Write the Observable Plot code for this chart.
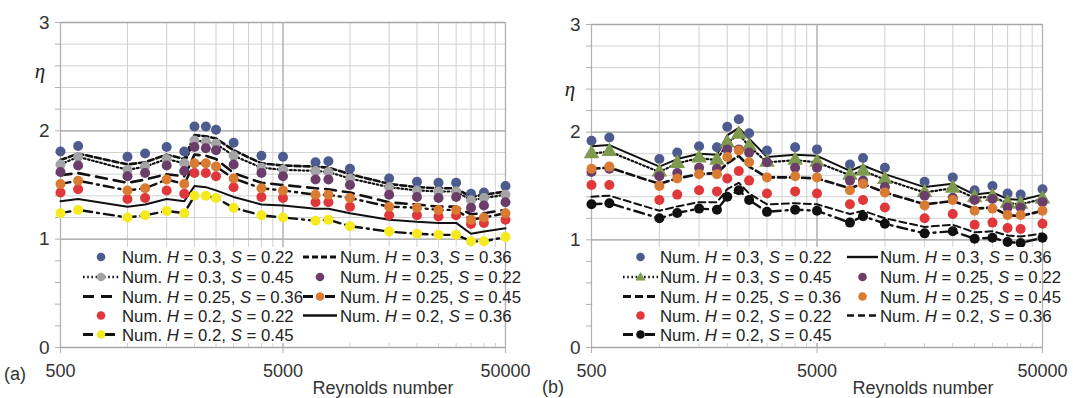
<!DOCTYPE html>
<html><head><meta charset="utf-8">
<script src="https://cdn.jsdelivr.net/npm/d3@7"></script>
<script src="https://cdn.jsdelivr.net/npm/@observablehq/plot@0.6"></script>
<style>
body{margin:0;background:#fff;}
#wrap{position:relative;width:1073px;height:398px;overflow:hidden;font-family:"Liberation Sans",Arial,sans-serif;}
#wrap svg{position:absolute;top:0;}
</style></head><body><div id="wrap"></div>
<script>
// ---------- data ----------
const reynolds = [500, 600, 1000, 1200, 1500, 1800, 2000, 2250, 2500, 3000, 4000, 5000, 7000, 8000, 10000, 15000, 20000, 25000, 30000, 35000, 40000, 50000];
const xTickLabels = [500, 5000, 50000];
const yTickLabels = [0, 1, 2, 3];
const gridX = [500,1000,1500,2000,2500,3000,3500,4000,4500,5000,10000,15000,20000,25000,30000,35000,40000,45000,50000];
const gridY = [0,0.2,0.4,0.6,0.8,1,1.2,1.4,1.6,1.8,2,2.2,2.4,2.6,2.8,3];

// panel (a)
const a_H030_S022 = [1.81,1.86,1.76,1.79,1.85,1.81,2.04,2.04,2.01,1.89,1.77,1.76,1.71,1.72,1.65,1.56,1.53,1.52,1.52,1.42,1.43,1.49];
const a_H030_S045 = [1.69,1.76,1.64,1.67,1.74,1.70,1.91,1.90,1.88,1.77,1.66,1.64,1.63,1.62,1.56,1.48,1.45,1.44,1.44,1.36,1.38,1.41];
const a_H025_S036 = [1.59,1.61,1.52,1.55,1.60,1.58,1.78,1.77,1.74,1.61,1.52,1.50,1.47,1.46,1.43,1.34,1.32,1.30,1.30,1.23,1.24,1.27];
const a_H020_S022 = [1.43,1.46,1.37,1.38,1.45,1.42,1.61,1.61,1.58,1.48,1.39,1.38,1.34,1.34,1.30,1.22,1.22,1.21,1.22,1.14,1.15,1.18];
const a_H020_S045 = [1.24,1.27,1.20,1.22,1.26,1.24,1.40,1.40,1.38,1.29,1.22,1.20,1.17,1.18,1.12,1.07,1.05,1.04,1.04,0.98,0.98,1.02];
const a_H030_S036 = [1.73,1.79,1.69,1.71,1.78,1.74,1.96,1.95,1.93,1.82,1.70,1.68,1.67,1.66,1.60,1.51,1.48,1.47,1.47,1.39,1.41,1.44];
const a_H025_S022 = [1.62,1.68,1.58,1.61,1.68,1.63,1.85,1.84,1.82,1.69,1.61,1.58,1.55,1.55,1.50,1.41,1.39,1.38,1.39,1.29,1.31,1.34];
const a_H025_S045 = [1.51,1.54,1.45,1.47,1.55,1.51,1.70,1.70,1.67,1.56,1.47,1.45,1.41,1.41,1.38,1.30,1.29,1.27,1.27,1.18,1.20,1.24];
const a_H020_S036 = [1.35,1.37,1.30,1.32,1.37,1.35,1.49,1.48,1.45,1.39,1.32,1.31,1.28,1.28,1.24,1.18,1.16,1.15,1.15,1.05,1.07,1.10];

// panel (b)
const b_H030_S022 = [1.92,1.95,1.75,1.81,1.87,1.86,2.05,2.12,1.99,1.83,1.86,1.84,1.70,1.76,1.67,1.54,1.58,1.46,1.50,1.43,1.42,1.47];
const b_H030_S045 = [1.80,1.82,1.63,1.71,1.76,1.74,1.90,1.98,1.87,1.72,1.74,1.72,1.60,1.64,1.56,1.44,1.48,1.39,1.40,1.34,1.33,1.38];
const b_H025_S036 = [1.66,1.67,1.52,1.57,1.61,1.62,1.71,1.78,1.68,1.58,1.58,1.57,1.48,1.52,1.44,1.33,1.36,1.29,1.30,1.23,1.22,1.27];
const b_H020_S022 = [1.51,1.51,1.37,1.42,1.46,1.45,1.57,1.64,1.55,1.43,1.45,1.43,1.33,1.37,1.30,1.20,1.24,1.14,1.16,1.11,1.10,1.15];
const b_H020_S045 = [1.33,1.34,1.20,1.25,1.29,1.28,1.40,1.46,1.37,1.26,1.28,1.27,1.16,1.22,1.15,1.06,1.08,1.01,1.02,0.98,0.97,1.02];
const b_H030_S036 = [1.87,1.88,1.68,1.75,1.80,1.79,1.97,2.04,1.94,1.77,1.79,1.78,1.64,1.69,1.61,1.49,1.52,1.42,1.44,1.38,1.37,1.42];
const b_H025_S022 = [1.63,1.66,1.59,1.62,1.67,1.66,1.84,1.84,1.81,1.72,1.67,1.67,1.55,1.55,1.49,1.41,1.39,1.37,1.38,1.30,1.30,1.35];
const b_H025_S045 = [1.66,1.68,1.50,1.57,1.61,1.61,1.77,1.83,1.72,1.58,1.59,1.58,1.46,1.52,1.44,1.32,1.37,1.27,1.29,1.23,1.23,1.27];
const b_H020_S036 = [1.40,1.41,1.27,1.31,1.35,1.35,1.47,1.53,1.43,1.33,1.34,1.33,1.24,1.27,1.20,1.12,1.14,1.07,1.08,1.04,1.03,1.06];

// ---------- styles ----------
const BLUE="#4e5b8e", GRAY="#a4a4a6", PURPLE="#6b3e69", ORANGE="#d97b32", RED="#e0373a", YELLOW="#f4ea1e", GREEN="#7f9a4e", BLACK="#111";
const DOTTED="1.6,2.6", LONG="11,7", DASH="6,3", DASHDOT="10,5,2,5", SHORT="7,4", MED="8,4";

const seriesA = [
  {H:"0.3", S:"0.22", v:a_H030_S022, fill:BLUE},
  {H:"0.3", S:"0.45", v:a_H030_S045, fill:GRAY, dash:DOTTED, sw:2.2},
  {H:"0.25",S:"0.36", v:a_H025_S036, dash:LONG, sw:2.6},
  {H:"0.2", S:"0.22", v:a_H020_S022, fill:RED},
  {H:"0.2", S:"0.45", v:a_H020_S045, fill:YELLOW, dash:DASHDOT, sw:2.4},
  {H:"0.3", S:"0.36", v:a_H030_S036, dash:DASH, sw:2.6},
  {H:"0.25",S:"0.22", v:a_H025_S022, fill:PURPLE},
  {H:"0.25",S:"0.45", v:a_H025_S045, fill:ORANGE, dash:DASHDOT, sw:2.4},
  {H:"0.2", S:"0.36", v:a_H020_S036, dash:"none", sw:2}
];
const seriesB = [
  {H:"0.3", S:"0.22", v:b_H030_S022, fill:BLUE},
  {H:"0.3", S:"0.45", v:b_H030_S045, fill:GREEN, dash:DOTTED, sw:2.2, symbol:"triangle"},
  {H:"0.25",S:"0.36", v:b_H025_S036, dash:MED, sw:2.6},
  {H:"0.2", S:"0.22", v:b_H020_S022, fill:RED},
  {H:"0.2", S:"0.45", v:b_H020_S045, fill:BLACK, dash:DASHDOT, sw:2.4},
  {H:"0.3", S:"0.36", v:b_H030_S036, dash:"none", sw:2},
  {H:"0.25",S:"0.22", v:b_H025_S022, fill:PURPLE},
  {H:"0.25",S:"0.45", v:b_H025_S045, fill:ORANGE},
  {H:"0.2", S:"0.36", v:b_H020_S036, dash:SHORT, sw:2}
];

const FONT = '"Liberation Sans", Arial, sans-serif';
const wrap = document.getElementById("wrap");

function panel(cfg) {
  const {series, left, width, mL, mT, mR} = cfg;
  const marks = [
    Plot.ruleY(gridY, {stroke:"#d2d2d2", strokeWidth:1}),
    Plot.ruleX(gridX, {stroke:"#d0d0d0", strokeWidth:1}),
    Plot.ruleY(yTickLabels, {stroke:"#a6a6a6", strokeWidth:1.3}),
    Plot.ruleX(xTickLabels, {stroke:"#b2b2b2", strokeWidth:1.3}),
    Plot.axisY({ticks: gridY, tickSize: 5, tickFormat: () => "", stroke:"#b0b0b0", label:null}),
    Plot.axisY({ticks: yTickLabels, tickSize: 0, tickPadding: 11, fontSize: 19, fill:"#333", label:null, tickFormat: d => String(d)}),
    Plot.axisX({ticks: xTickLabels, tickSize: 6, tickPadding: 11, fontSize: 18, fill:"#333", stroke:"#b0b0b0", tickFormat: d => String(d), label:null})
  ];
  series.forEach(s => {
    if (s.dash) {
      const data = reynolds.map((re,i)=>({re, eta:s.v[i]}));
      marks.push(Plot.line(data, {x:"re", y:"eta", stroke:BLACK, strokeWidth:s.sw, strokeDasharray: s.dash === "none" ? null : s.dash}));
    }
  });
  series.forEach(s => {
    if (s.fill) {
      const data = reynolds.map((re,i)=>({re, eta:s.v[i]}));
      marks.push(Plot.dot(data, {x:"re", y:"eta", fill:s.fill, r: s.symbol ? 5.8 : 5, symbol: s.symbol || "circle", stroke:"none"}));
    }
  });
  const svg = Plot.plot({
    width, height: 398, marginLeft: mL, marginRight: mR, marginTop: mT, marginBottom: 398-347,
    x: {type:"log", domain:[500,50000]},
    y: {domain:[0,3]},
    style: {fontFamily: FONT, background:"transparent", overflow:"visible"},
    marks
  });
  svg.style.left = left + "px";
  wrap.appendChild(svg);
  const g = d3.select(svg).append("g").attr("font-family", FONT).attr("text-anchor", "start");
  // legend box
  const lb = cfg.legendBox;
  g.append("rect").attr("x", lb[0]).attr("y", lb[1]).attr("width", lb[2]).attr("height", lb[3]).attr("fill", "#fff");
  const rows = [257, 277, 296.5, 315.5, 334.5];
  series.forEach((s, i) => {
    const col = i < 5 ? 0 : 1;
    const row = i < 5 ? i : i - 5;
    const L = cfg.legendCols[col];
    const cy = rows[row];
    if (s.dash) {
      g.append("line").attr("x1", L.sx0).attr("x2", L.sx1).attr("y1", cy).attr("y2", cy)
        .attr("stroke", BLACK).attr("stroke-width", s.sw + 0.4)
        .attr("stroke-dasharray", s.dash === "none" ? null : s.dash);
    }
    if (s.fill) {
      const cx = (L.sx0 + L.sx1) / 2;
      if (s.symbol === "triangle") {
        const r = 5;
        g.append("path").attr("d", `M${cx},${cy-r}L${cx+r},${cy+r*0.7}L${cx-r},${cy+r*0.7}Z`).attr("fill", s.fill);
      } else {
        g.append("circle").attr("cx", cx).attr("cy", cy).attr("r", 4.3).attr("fill", s.fill);
      }
    }
    const t = g.append("text").attr("x", L.tx).attr("y", cy + 6).attr("font-size", 16.8).attr("fill", "#222").attr("text-anchor","start");
    t.append("tspan").text("Num. ");
    t.append("tspan").attr("font-style", "italic").text("H");
    t.append("tspan").text(` = ${s.H}, `);
    t.append("tspan").attr("font-style", "italic").text("S");
    t.append("tspan").text(` = ${s.S}`);
  });
  // eta label
  g.append("text").attr("x", cfg.eta[0]).attr("y", cfg.eta[1]).attr("text-anchor","middle")
    .attr("font-family", '"Liberation Serif", "DejaVu Serif", serif').attr("font-style","italic")
    .attr("font-size", 21).attr("fill","#222").text("η");
  // axis title
  g.append("text").attr("x", cfg.xlab[0]).attr("y", cfg.xlab[1]).attr("text-anchor","middle")
    .attr("font-size", 18).attr("fill","#333").text("Reynolds number");
  // panel tag
  g.append("text").attr("x", cfg.tag[0]).attr("y", cfg.tag[1]).attr("text-anchor","start").attr("font-size", 18).attr("fill","#333").text(cfg.tagText);
}

panel({
  series: seriesA, left: 0, width: 536, mL: 60, mR: 31, mT: 22,
  legendBox: [61.5, 247, 442, 96],
  legendCols: [{sx0: 83, sx1: 119, tx: 122}, {sx0: 303, sx1: 337, tx: 340}],
  eta: [40, 78], xlab: [383, 394], tag: [4, 380], tagText: "(a)"
});
panel({
  series: seriesB, left: 536, width: 537, mL: 55, mR: 31, mT: 24,
  legendBox: [56.5, 247, 449, 96],
  legendCols: [{sx0: 87, sx1: 122, tx: 124}, {sx0: 311, sx1: 342, tx: 344}],
  eta: [34, 96], xlab: [387, 394], tag: [6, 393], tagText: "(b)"
});
</script></body></html>
